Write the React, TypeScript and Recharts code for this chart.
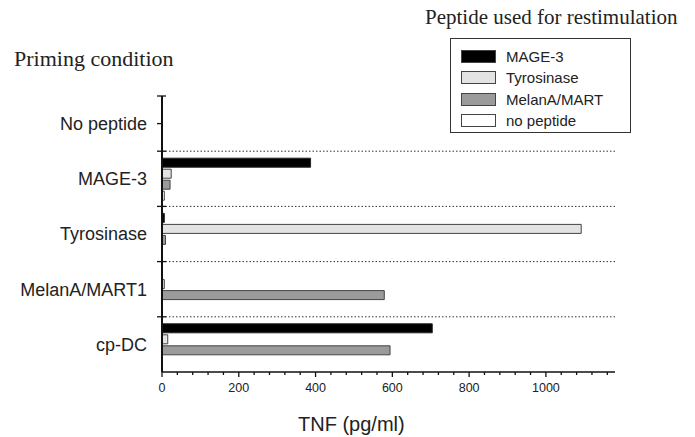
import React from 'react';
import { BarChart, Bar, XAxis, YAxis, ReferenceLine, Legend } from 'recharts';

const categories = ['No peptide', 'MAGE-3', 'Tyrosinase', 'MelanA/MART1', 'cp-DC'];
const mage3Values = [0, 387, 6, 0, 704];
const tyrosinaseValues = [0, 24, 1092, 6, 15];
const melanAValues = [0, 21, 9, 579, 594];
const noPeptideValues = [0, 6, 0, 0, 0];
const seriesNames = ['MAGE-3', 'Tyrosinase', 'MelanA/MART', 'no peptide'];
const seriesColors = ['#000000', '#e3e3e3', '#9b9b9b', '#ffffff'];
const xTicks = [0, 40, 80, 120, 160, 200, 240, 280, 320, 360, 400, 440, 480, 520, 560, 600, 640, 680, 720, 760, 800, 840, 880, 920, 960, 1000, 1040, 1080, 1120, 1160];
const xLabelTicks = [0, 200, 400, 600, 800, 1000];
const separatorCategories = ['MAGE-3', 'Tyrosinase', 'MelanA/MART1', 'cp-DC'];

const data = categories.map((c, i) => ({
  category: c,
  mage3: mage3Values[i],
  tyrosinase: tyrosinaseValues[i],
  melanA: melanAValues[i],
  noPeptide: noPeptideValues[i],
}));

const SANS = "'Liberation Sans', Arial, Helvetica, sans-serif";
const SERIF = "'Liberation Serif', 'Times New Roman', serif";

const XTick = (props: any) => {
  const { x, y, payload } = props;
  const v = payload.value;
  const major = v % 200 === 0;
  return (
    <g>
      <line x1={x} x2={x} y1={y} y2={y + (major ? 5 : 3)} stroke="#111" strokeWidth={1.3} />
      {major && xLabelTicks.includes(v) && (
        <text x={x} y={y + 20} textAnchor="middle" fontSize={12.5} fill="#222" fontFamily={SANS}>
          {v}
        </text>
      )}
    </g>
  );
};

const YCatTick = (props: any) => {
  const { x, y, payload, index } = props;
  const half = payload.offset || 0;
  const top = y - half;
  return (
    <g>
      <line x1={x - 5} x2={x + 4} y1={top} y2={top} stroke="#111" strokeWidth={1.3} />
      {index === 0 && <line x1={x - 5} x2={x} y1={y} y2={y} stroke="#111" strokeWidth={1.3} />}
      <text x={x - 15} y={y} dy="0.35em" textAnchor="end" fontSize={18} fill="#222" fontFamily={SANS}>
        {payload.value}
      </text>
    </g>
  );
};

const LegendBox = (props: any) => {
  const payload = [...(props.payload || [])].sort(
    (a: any, b: any) => seriesNames.indexOf(a.value) - seriesNames.indexOf(b.value)
  );
  return (
    <div
      style={{
        border: '1px solid #333',
        width: 181,
        height: 95,
        boxSizing: 'border-box',
        padding: '7px 0 0 10px',
        background: '#fff',
      }}
    >
      {payload.map((e: any) => (
        <div key={e.value} style={{ display: 'flex', alignItems: 'center', height: 21.3 }}>
          <span
            style={{
              display: 'inline-block',
              width: 35,
              height: 13,
              background: e.color,
              border: '1px solid #444',
              boxSizing: 'border-box',
              marginRight: 10,
            }}
          />
          <span style={{ fontSize: 15, fontFamily: SANS, color: '#222', lineHeight: '15px' }}>{e.value}</span>
        </div>
      ))}
    </div>
  );
};

const XTitle = (props: any) => {
  const vb = props.viewBox || { x: 0, y: 0 };
  return (
    <text x={vb.x + 136} y={vb.y + 59} fontSize={20} fill="#222" fontFamily={SANS} textAnchor="start">
      TNF (pg/ml)
    </text>
  );
};

export default function App() {
  return (
    <div style={{ position: 'absolute', left: 0, top: 0, width: 695, height: 437, background: '#fff' }}>
      <div
        style={{
          position: 'absolute',
          left: 425,
          top: 7,
          fontFamily: SERIF,
          fontSize: 21,
          lineHeight: '21px',
          color: '#222',
          whiteSpace: 'nowrap',
        }}
      >
        Peptide used for restimulation
      </div>
      <div
        style={{
          position: 'absolute',
          left: 14,
          top: 48,
          fontFamily: SERIF,
          fontSize: 22,
          lineHeight: '22px',
          color: '#222',
          whiteSpace: 'nowrap',
        }}
      >
        Priming condition
      </div>
      <BarChart
        width={695}
        height={437}
        data={data}
        layout="vertical"
        margin={{ top: 96, right: 80, bottom: 0, left: 0 }}
        barSize={9}
        barGap={2}
      >
        <XAxis
          type="number"
          domain={[0, 1180]}
          ticks={xTicks}
          interval={0}
          tickSize={0}
          tickMargin={0}
          tickLine={false}
          tick={<XTick />}
          axisLine={{ stroke: '#111', strokeWidth: 1.6 }}
          height={65}
          allowDataOverflow
          label={<XTitle />}
        />
        <YAxis
          type="category"
          dataKey="category"
          width={162}
          axisLine={{ stroke: '#111', strokeWidth: 2 }}
          tickLine={false}
          tickSize={0}
          tickMargin={0}
          interval={0}
          tick={<YCatTick />}
        />
        {separatorCategories.map((c) => (
          <ReferenceLine
            key={c}
            y={c}
            position="start"
            stroke="#333"
            strokeDasharray="1.5 2"
            strokeWidth={1}
          />
        ))}
        <Legend
          layout="horizontal"
          verticalAlign="middle"
          align="center"
          content={<LegendBox />}
          wrapperStyle={{ left: 450, top: 38, width: 181 }}
        />
        <Bar dataKey="mage3" name={seriesNames[0]} fill={seriesColors[0]} stroke="#222" strokeWidth={1} isAnimationActive={false} />
        <Bar dataKey="tyrosinase" name={seriesNames[1]} fill={seriesColors[1]} stroke="#444" strokeWidth={1} isAnimationActive={false} />
        <Bar dataKey="melanA" name={seriesNames[2]} fill={seriesColors[2]} stroke="#444" strokeWidth={1} isAnimationActive={false} />
        <Bar dataKey="noPeptide" name={seriesNames[3]} fill={seriesColors[3]} stroke="#444" strokeWidth={1} isAnimationActive={false} />
      </BarChart>
    </div>
  );
}
